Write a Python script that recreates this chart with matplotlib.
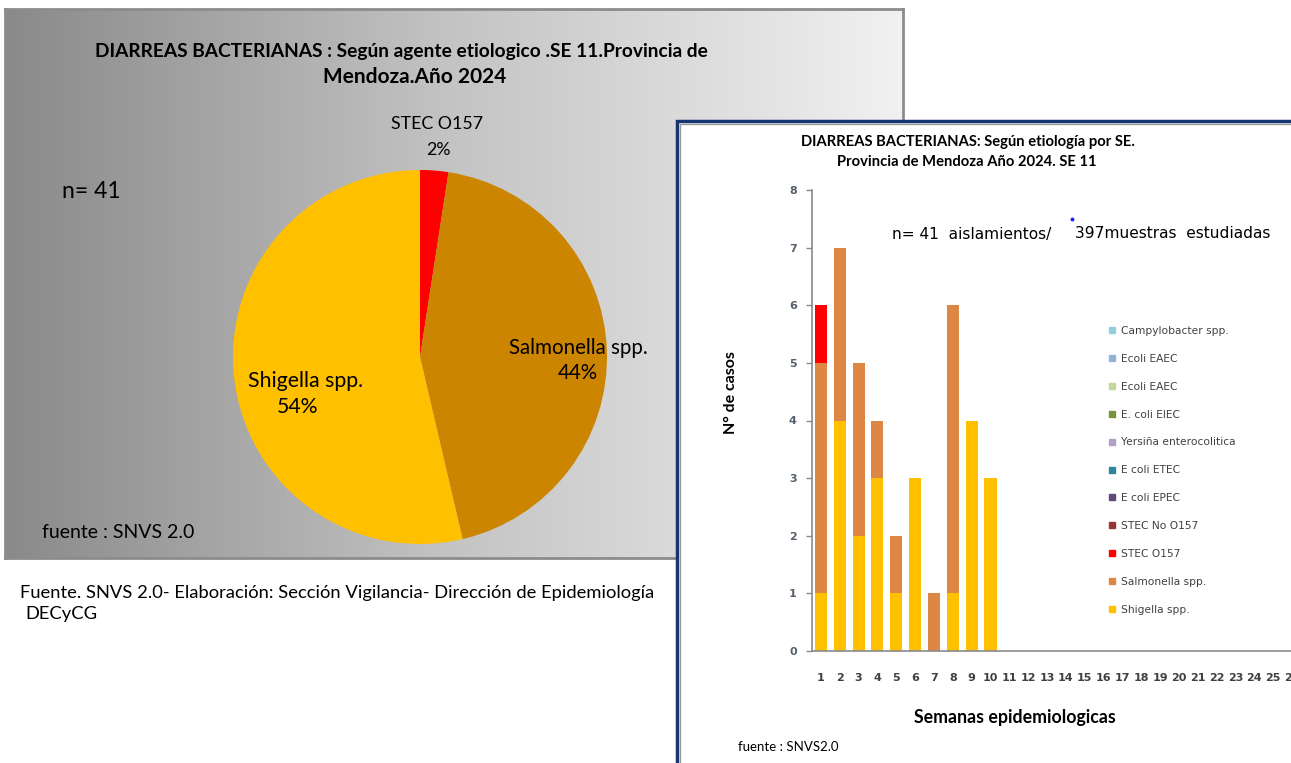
import numpy as np
import matplotlib
matplotlib.use("Agg")
import matplotlib.pyplot as plt
from matplotlib.patches import Rectangle
from matplotlib.lines import Line2D
from matplotlib.colors import LinearSegmentedColormap

W, H = 1291, 763

# ---------------- data ----------------
pie_labels = ["STEC O157", "Salmonella spp.", "Shigella spp."]
pie_values = [1, 18, 22]
pie_pct_labels = ["2%", "44%", "54%"]

weeks = list(range(1, 27))
series_names = ["Campylobacter spp.", "Ecoli EAEC", "Ecoli EAEC", "E. coli EIEC",
                "Yersiña enterocolitica", "E coli ETEC", "E coli EPEC",
                "STEC No O157", "STEC O157", "Salmonella spp.", "Shigella spp."]
shigella = [1, 4, 2, 3, 1, 3, 0, 1, 4, 3] + [0] * 16
salmonella = [4, 3, 3, 1, 1, 0, 1, 5, 0, 0] + [0] * 16
stec_o157 = [1, 0, 0, 0, 0, 0, 0, 0, 0, 0] + [0] * 16
zeros = [0] * 26
series_values = [zeros, zeros, zeros, zeros, zeros, zeros, zeros,
                 zeros, stec_o157, salmonella, shigella]
series_colors = ["#93CDDD", "#95B3D7", "#C3D69B", "#77933C", "#B3A2C7",
                 "#31859C", "#604A7B", "#953735", "#FF0000", "#DE8744", "#FFC000"]

fig = plt.figure(figsize=(W / 100, H / 100), dpi=100)
fig.patch.set_facecolor("white")


def fx(x):
    return x / W


def fy(y):
    return 1 - y / H


def box(x0, y0, x1, y1):
    return [fx(x0), fy(y1), (x1 - x0) / W, (y1 - y0) / H]


# ---------------- left panel (pie) ----------------
bg = fig.add_axes(box(5, 9, 903, 558))
grad = np.linspace(0, 1, 256)[None, :]
gcmap = LinearSegmentedColormap.from_list("g", ["#8a8a8a", "#c4c4c4", "#f1f1f1"])
bg.imshow(grad, aspect="auto", cmap=gcmap, extent=[0, 1, 0, 1])
bg.set_xticks([])
bg.set_yticks([])
for s in bg.spines.values():
    s.set_color("#8c8c8c")
    s.set_linewidth(2)

pax = fig.add_axes(box(233, 170, 607, 544))
pax.pie(pie_values, colors=["#FF0000", "#CC8500", "#FFC000"], startangle=90,
        counterclock=False, radius=1, wedgeprops=dict(linewidth=0))
pax.set_xlim(-1, 1)
pax.set_ylim(-1, 1)
pax.set_aspect("equal")
pax.axis("off")

LF = ["Lato", "DejaVu Sans"]
fig.text(fx(401), fy(52), "DIARREAS BACTERIANAS : Según agente etiologico .SE 11.Provincia de",
         ha="center", va="center", fontsize=13.8, fontweight="bold", family=LF)
fig.text(fx(415), fy(77), "Mendoza.Año 2024", ha="center", va="center",
         fontsize=15, fontweight="bold", family=LF)
fig.text(fx(62), fy(191), "n= 41", ha="left", va="center", fontsize=16.5, family=LF)
pie_pos = [(437, 124, 438, 150), (578, 348, 578, 373), (305, 381, 298, 407)]
pie_sizes = [12.8, 14.8, 15.3]
for lab, pct, (x1, y1, x2, y2), fs in zip(pie_labels, pie_pct_labels, pie_pos, pie_sizes):
    fig.text(fx(x1), fy(y1), lab, ha="center", va="center", fontsize=fs, family=LF)
    fig.text(fx(x2), fy(y2), pct, ha="center", va="center", fontsize=fs, family=LF)
fig.text(fx(42), fy(533), "fuente : SNVS 2.0", ha="left", va="center", fontsize=14, family=LF)

fig.text(fx(20), fy(593), "Fuente. SNVS 2.0- Elaboración: Sección Vigilancia- Dirección de Epidemiología",
         ha="left", va="center", fontsize=13.2, family=LF)
fig.text(fx(25), fy(614), "DECyCG", ha="left", va="center", fontsize=13.2, family=LF)

# ---------------- right panel (bars) ----------------
fig.add_artist(Rectangle((fx(677), fy(900)), 1, fy(121) - fy(900), transform=fig.transFigure,
                         facecolor="white", edgecolor="#17356E", linewidth=2.5, zorder=1))
fig.add_artist(Rectangle((fx(680), fy(900)), 1, fy(123.5) - fy(900), transform=fig.transFigure,
                         facecolor="none", edgecolor="#9a9a9a", linewidth=1, zorder=1.1))

x0_px, y0_px = 812, 651
unit = 18.85
xmin, xmax = 0.53, 26.6
bax = fig.add_axes([fx(x0_px), fy(y0_px), (xmax - xmin) * unit / W, (651 - 190) / H])
bax.set_zorder(2)
bax.patch.set_alpha(0)
bottom = np.zeros(len(weeks))
for name, vals, col in zip(reversed(series_names), reversed(series_values), reversed(series_colors)):
    v = np.array(vals, dtype=float)
    bax.bar(weeks, v, bottom=bottom, width=0.64, color=col, linewidth=0)
    bottom += v
bax.set_xlim(xmin, xmax)
bax.set_ylim(0, 8)
bax.set_xticks(weeks)
bax.set_xticklabels([str(w) for w in weeks])
bax.set_yticks(range(0, 9))
for s in ["top", "right"]:
    bax.spines[s].set_visible(False)
for s in ["left", "bottom"]:
    bax.spines[s].set_color("#8a8a8a")
    bax.spines[s].set_linewidth(1.2)
bax.tick_params(axis="x", length=0, pad=15.5, labelsize=8, colors="#404040")
bax.tick_params(axis="y", length=4, width=1, color="#8a8a8a", pad=7, labelsize=8,
                labelcolor="#55606e")
for t in bax.get_xticklabels() + bax.get_yticklabels():
    t.set_fontweight("bold")

fig.text(fx(968), fy(142), "DIARREAS BACTERIANAS: Según etiología por SE.", ha="center",
         va="center", fontsize=10.6, fontweight="bold", family=LF, zorder=5)
fig.text(fx(967), fy(162), "Provincia de Mendoza Año 2024. SE 11", ha="center",
         va="center", fontsize=10.6, fontweight="bold", family=LF, zorder=5)
fig.text(fx(731), fy(393), "N° de casos", rotation=90, ha="center", va="center",
         fontsize=11.5, fontweight="bold", family=LF, zorder=5)
fig.text(fx(1015), fy(717), "Semanas epidemiologicas", ha="center", va="center",
         fontsize=12.8, fontweight="bold", family=LF, zorder=5)
fig.text(fx(892), fy(234), "n= 41  aislamientos/", ha="left",
         va="center", fontsize=11.1, family="DejaVu Sans", zorder=5)
fig.text(fx(1075), fy(234), "397muestras  estudiadas", ha="left",
         va="center", fontsize=11.1, family="DejaVu Sans", zorder=5)
fig.add_artist(Line2D([fx(1072)], [fy(219)], marker="o", markersize=1.8, color="#2020ff",
                      transform=fig.transFigure, zorder=5))
fig.text(fx(738), fy(747), "fuente : SNVS2.0", ha="left", va="center", fontsize=9.5,
         family=LF, zorder=5)

handles = [Line2D([], [], linestyle="none", marker="s", markersize=4.5,
                  markerfacecolor=c, markeredgecolor=c) for c in series_colors]
leg = fig.legend(handles, series_names, loc="upper left",
                 bbox_to_anchor=(fx(1108), fy(326)), frameon=False,
                 labelspacing=1.67, handlelength=0.8, handletextpad=0.4,
                 borderpad=0, borderaxespad=0, prop=dict(family="DejaVu Sans", size=7.7))
for t in leg.get_texts():
    t.set_color("#404040")
leg.set_zorder(6)

fig.savefig("out.png", dpi=100)
